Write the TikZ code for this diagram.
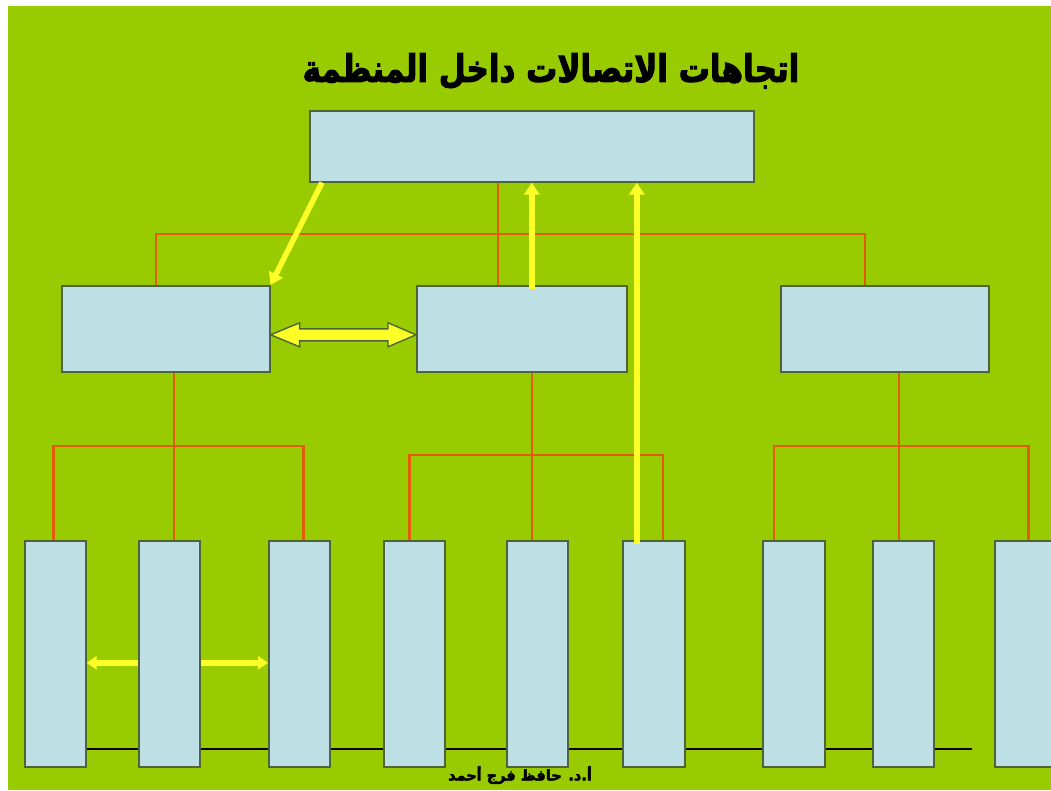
\documentclass[tikz,border=0pt]{standalone}
\usepackage{fontspec}
\newfontfamily\arabicfont[Script=Arabic]{DejaVu Sans}
\newfontfamily\titlefont[Script=Arabic,BoldFeatures={FakeBold=3}]{DejaVu Sans}
\TeXXeTstate=1
\usetikzlibrary{arrows.meta,calc}
\pgfdeclarelayer{page}
\pgfdeclarelayer{bg}
\pgfsetlayers{page,bg,main}

\definecolor{pagegreen}{RGB}{153,204,0}
\definecolor{boxfill}{RGB}{190,223,228}
\definecolor{boxline}{RGB}{78,100,58}
\definecolor{linkorange}{RGB}{226,92,12}
\definecolor{flowyellow}{RGB}{255,255,40}

\tikzset{
  box/.style={draw=boxline, line width=1.6pt, fill=boxfill, anchor=north west, inner sep=0pt},
  upperbox/.style={box, minimum width=208pt, minimum height=86pt},
  lowerbox/.style={box, minimum width=61pt, minimum height=226pt},
  treeline/.style={draw=linkorange, line width=1.4pt},
  treeline2/.style={draw=linkorange, line width=2.4pt},
  flow/.style={draw=flowyellow, line width=5.5pt, -{Triangle[length=12pt,width=15pt]}},
  flowboth/.style={draw=flowyellow, line width=5.5pt, {Triangle[length=10pt,width=13pt]}-{Triangle[length=10pt,width=13pt]}},
  blockarrow/.style={draw=boxline, fill=flowyellow, line width=1.4pt, line join=miter},
  baseline/.style={draw=black, line width=2.8pt}
}

\begin{document}
\begin{tikzpicture}[x=1pt, y=-1pt]
  % page and green panel
  \begin{pgfonlayer}{page}
    \fill[white] (0,0) rectangle (1051,790);
    \fill[pagegreen] (8,6) rectangle (1051,790);
  \end{pgfonlayer}
  \useasboundingbox (0,0) rectangle (1051,790);

  % title
  \node[font=\titlefont\bfseries\fontsize{31}{36}\selectfont] (title) at (551,71)
      {\scalebox{1}[1.22]{\beginR اتجاهات الاتصالات داخل المنظمة\endR}};

  % top level
  \node[box, minimum width=444pt, minimum height=71pt] (top) at (309,110) {};

  % middle level
  \node[upperbox] (m1) at (61,285) {};
  \node[upperbox, minimum width=210pt] (m2) at (416,285) {};
  \node[upperbox] (m3) at (780,285) {};

  % bottom level
  \node[lowerbox] (b1) at (24,540) {};
  \node[lowerbox] (b2) at (138,540) {};
  \node[lowerbox] (b3) at (268,540) {};
  \node[lowerbox] (b4) at (383,540) {};
  \node[lowerbox] (b5) at (506,540) {};
  \node[lowerbox, minimum width=62pt] (b6) at (622,540) {};
  \node[lowerbox, minimum width=62pt] (b7) at (762,540) {};
  \node[lowerbox] (b8) at (872,540) {};
  \node[lowerbox] (b9) at (994,540) {};

  \coordinate (busTop) at (0,234);
  \coordinate (busA) at (0,446);
  \coordinate (busB) at (0,455);
  \coordinate (busC) at (0,446);
  \coordinate (lineEnd) at (972,749);

  \begin{pgfonlayer}{bg}
    % organisation tree, upper part
    \draw[treeline] ([xshift=-34pt]top.south) -- ([xshift=-24pt]m2.north);
    \draw[treeline] ([xshift=-10pt]m1.north) -- ([xshift=-10pt]m1.north |- busTop)
                    -- ([xshift=-20pt]m3.north |- busTop) -- ([xshift=-20pt]m3.north);

    % organisation tree, lower part
    \draw[treeline2] ([xshift=8pt]m1.south) -- ([xshift=4.5pt]b2.north);
    \draw[treeline2] ([xshift=-2pt]b1.north) -- ([xshift=-2pt]b1.north |- busA)
                     -- ([xshift=4pt]b3.north |- busA) -- ([xshift=4pt]b3.north);

    \draw[treeline2] ([xshift=10pt]m2.south) -- ([xshift=-5.5pt]b5.north);
    \draw[treeline2] ([xshift=-5pt]b4.north) -- ([xshift=-5pt]b4.north |- busB)
                     -- ([xshift=9pt]b6.north |- busB) -- ([xshift=9pt]b6.north);

    \draw[treeline2] ([xshift=14pt]m3.south) -- ([xshift=-4.5pt]b8.north);
    \draw[treeline2] ([xshift=-20pt]b7.north) -- ([xshift=-20pt]b7.north |- busC)
                     -- ([xshift=3pt]b9.north |- busC) -- ([xshift=3pt]b9.north);

    % base line behind the bottom boxes
    \draw[baseline] (b1.east |- lineEnd) -- (lineEnd);

    % sideways flow between the first three bottom boxes
    \draw[flowboth] ([yshift=-9pt]b1.east) -- ([yshift=-9pt]b3.west);
  \end{pgfonlayer}

  % downward, upward and diagonal flows
  \draw[flow] ([xshift=13pt]top.south west) -- (m1.north east);
  \draw[flow] ([xshift=10pt,yshift=-4pt]m2.north) -- ([xshift=10pt]m2.north |- top.south);
  \draw[flow] ([xshift=-17pt,yshift=-4pt]b6.north) -- ([xshift=-17pt]b6.north |- top.south);

  % horizontal two-headed block arrow between middle boxes
  \coordinate (dl) at ([yshift=-6pt]m1.east);
  \coordinate (dr) at ([yshift=-6pt]m2.west);
  \draw[blockarrow] (dl) -- ++(29,-12) -- ++(0,6) -- ($(dr)+(-28,-6)$) -- ++(0,-6)
    -- (dr) -- ++(-28,12) -- ++(0,-6) -- ($(dl)+(29,6)$) -- ++(0,6) -- cycle;

  % footer
  \node[font=\titlefont\bfseries\fontsize{14.5}{17}\selectfont] (footer) at (520,775)
    {\beginR أ.د. حافظ فرج أحمد\endR};
\end{tikzpicture}
\end{document}
